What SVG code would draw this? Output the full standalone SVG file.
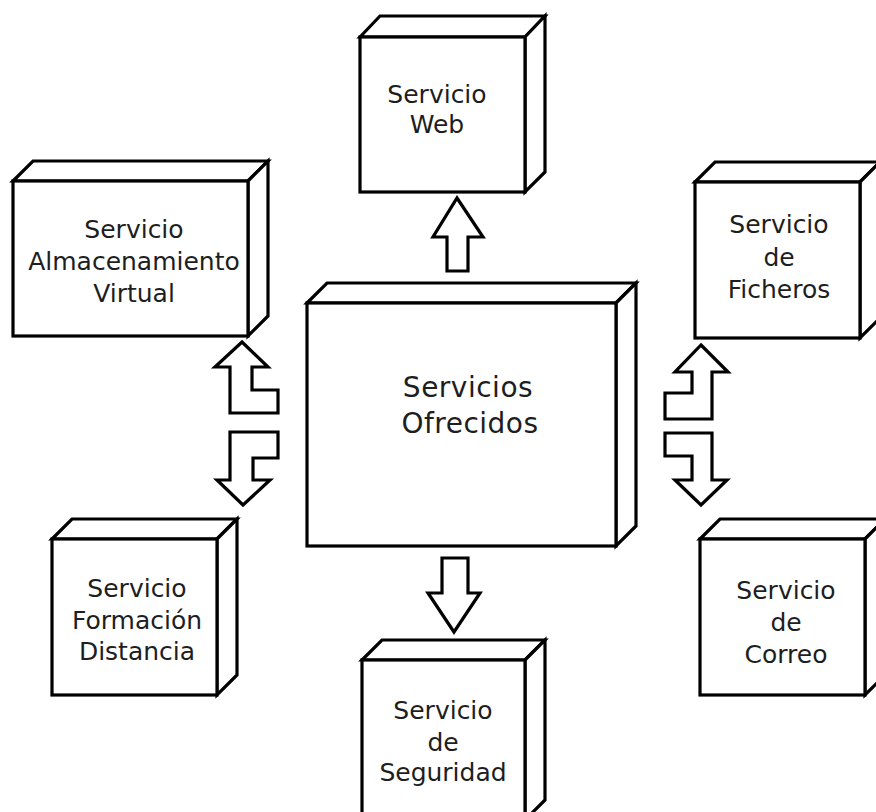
<svg xmlns="http://www.w3.org/2000/svg" width="876" height="812" viewBox="0 0 876 812">
  <style>
    .face { fill: #ffffff; stroke: #000000; stroke-width: 3.2; stroke-linejoin: miter; }
    .arrow { fill: #ffffff; stroke: #000000; stroke-width: 3.2; stroke-linejoin: miter; }
    .label { font-family: "DejaVu Sans", "Noto Sans", sans-serif; font-size: 25px; fill: #1e1e1e; text-anchor: middle; }
    .big { font-size: 28px; letter-spacing: 0.5px; }
  </style>
  <rect width="876" height="812" fill="#ffffff"/>

  <!-- central node -->
  <g id="servicios-ofrecidos">
    <polygon class="face" points="307,303 327,283 636,283 616,303"/>
    <polygon class="face" points="616,303 636,283 636,526 616,546"/>
    <rect class="face" x="307" y="303" width="309" height="243"/>
    <text class="label big" x="468" y="397">Servicios</text>
    <text class="label big" x="470" y="433">Ofrecidos</text>
  </g>

  <g id="servicio-web">
    <polygon class="face" points="360,37 380,16 545,16 525,37"/>
    <polygon class="face" points="525,37 545,16 545,172 525,192"/>
    <rect class="face" x="360" y="37" width="165" height="155"/>
    <text class="label" x="437" y="103">Servicio</text>
    <text class="label" x="437" y="133">Web</text>
  </g>

  <g id="servicio-almacenamiento">
    <polygon class="face" points="13,181 33,161 268,161 248,181"/>
    <polygon class="face" points="248,181 268,161 268,316 248,336"/>
    <rect class="face" x="13" y="181" width="235" height="155"/>
    <text class="label" x="134" y="238">Servicio</text>
    <text class="label" x="134" y="270">Almacenamiento</text>
    <text class="label" x="134" y="302">Virtual</text>
  </g>

  <g id="servicio-ficheros">
    <polygon class="face" points="695,182 715,162 880,162 860,182"/>
    <polygon class="face" points="860,182 880,162 880,318 860,338"/>
    <rect class="face" x="695" y="182" width="165" height="156"/>
    <text class="label" x="779" y="233">Servicio</text>
    <text class="label" x="779" y="266">de</text>
    <text class="label" x="779" y="298">Ficheros</text>
  </g>

  <g id="servicio-formacion">
    <polygon class="face" points="52,539 72,519 237,519 217,539"/>
    <polygon class="face" points="217,539 237,519 237,675 217,695"/>
    <rect class="face" x="52" y="539" width="165" height="156"/>
    <text class="label" x="137" y="597">Servicio</text>
    <text class="label" x="137" y="629">Formación</text>
    <text class="label" x="137" y="660">Distancia</text>
  </g>

  <g id="servicio-correo">
    <polygon class="face" points="700,539 720,519 885,519 865,539"/>
    <polygon class="face" points="865,539 885,519 885,675 865,695"/>
    <rect class="face" x="700" y="539" width="165" height="156"/>
    <text class="label" x="786" y="599">Servicio</text>
    <text class="label" x="786" y="631">de</text>
    <text class="label" x="786" y="663">Correo</text>
  </g>

  <g id="servicio-seguridad">
    <polygon class="face" points="362,660 382,640 545,640 525,660"/>
    <polygon class="face" points="525,660 545,640 545,800 525,820"/>
    <rect class="face" x="362" y="660" width="163" height="160"/>
    <text class="label" x="443" y="719">Servicio</text>
    <text class="label" x="443" y="751">de</text>
    <text class="label" x="443" y="781">Seguridad</text>
  </g>

  <!-- block arrows from the central node -->
  <g id="connectors">
    <polygon class="arrow" points="457,198 483,237 468,237 468,271 447,271 447,237 433,237"/>
    <polygon class="arrow" points="442,558 468,558 468,593 480,593 454,632 428,593 442,593"/>
    <polygon class="arrow" points="242,342 268,367 252,367 252,390 278,390 278,413 230,413 230,367 215,367"/>
    <polygon class="arrow" points="230,432 278,432 278,458 253,458 253,480 270,480 243,505 217,480 230,480"/>
    <polygon class="arrow" points="701,345 728,372 712,372 712,419 665,419 665,393 692,393 692,372 675,372"/>
    <polygon class="arrow" points="665,433 712,433 712,480 727,480 701,505 675,480 692,480 692,456 665,456"/>
  </g>
</svg>
